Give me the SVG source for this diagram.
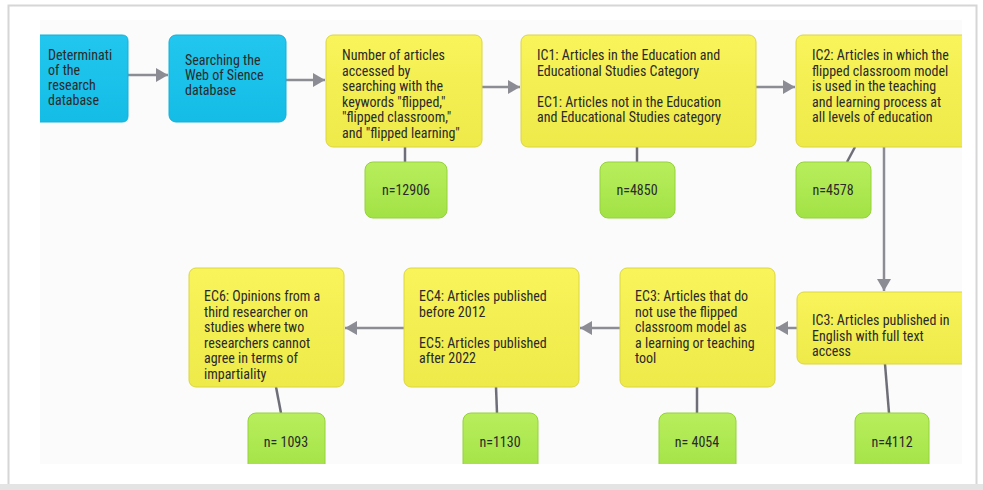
<svg xmlns="http://www.w3.org/2000/svg" width="983" height="490" viewBox="0 0 983 490">
<defs>
<linearGradient id="gy" x1="0" y1="0" x2="0" y2="1"><stop offset="0" stop-color="#f8f45a"/><stop offset="1" stop-color="#eeea4a"/></linearGradient>
<linearGradient id="gb" x1="0" y1="0" x2="0" y2="1"><stop offset="0" stop-color="#22c6ee"/><stop offset="1" stop-color="#14bde6"/></linearGradient>
<linearGradient id="gg" x1="0" y1="0" x2="0" y2="1"><stop offset="0" stop-color="#b8ee5c"/><stop offset="1" stop-color="#a2e246"/></linearGradient>
<marker id="ah" viewBox="0 0 12 14" refX="12" refY="7" markerWidth="12" markerHeight="14" markerUnits="userSpaceOnUse" orient="auto"><path d="M0,0 L12,7 L0,14 z" fill="#8c8c94"/></marker>
<clipPath id="panel"><rect x="40" y="20" width="922" height="444"/></clipPath>
</defs>
<style>
text{font-family:"Roboto Condensed","Liberation Sans Narrow",Roboto,sans-serif;font-stretch:condensed;font-size:14px;fill:#2a2a2a}
.y{fill:url(#gy);stroke:#dcd640;stroke-width:1}
.b{fill:url(#gb);stroke:#12b0d8;stroke-width:1}
.g{fill:url(#gg);stroke:#96d23c;stroke-width:1}
.c{stroke:#8c8c94;stroke-width:2.5;fill:none}
.l{stroke:#6e6e78;stroke-width:2.5;fill:none}
.m{text-anchor:middle}
</style>
<rect x="0" y="0" width="983" height="490" fill="#ffffff"/>
<rect x="8.5" y="5.5" width="968" height="480" fill="#ffffff" stroke="#d6d6d6" stroke-width="2"/>
<rect x="0" y="484" width="983" height="6" fill="#e4e4e4"/>
<rect x="40" y="20" width="922" height="444" fill="#fbfbfb"/>
<g clip-path="url(#panel)">
<g id="connectors">
<path class="c" d="M128,75 H168" marker-end="url(#ah)"/>
<path class="c" d="M286,80 H325" marker-end="url(#ah)"/>
<path class="c" d="M482,87 H520" marker-end="url(#ah)"/>
<path class="c" d="M756,87 H795" marker-end="url(#ah)"/>
<path class="c" d="M884,147 V291" marker-end="url(#ah)"/>
<path class="c" d="M797,328 H776" marker-end="url(#ah)"/>
<path class="c" d="M620,328 H580" marker-end="url(#ah)"/>
<path class="c" d="M404,328 H345" marker-end="url(#ah)"/>
<path class="l" d="M405,147 V162"/>
<path class="l" d="M637,147 V162"/>
<path class="l" d="M855,147 L847,162"/>
<path class="l" d="M276,387 L281,413"/>
<path class="l" d="M496,387 L497,413"/>
<path class="l" d="M697,387 V413"/>
<path class="l" d="M885,364 L889,413"/>
</g>
<g id="n1">
<path class="b" d="M30,35 H122 Q128,35 128,41 V116 Q128,122 122,122 H30 Z"/>
<text x="48" y="60">Determinati</text><text x="48" y="75">of the</text><text x="48" y="90"> research</text><text x="48" y="105">database</text>
</g>
<g id="n2">
<rect class="b" x="169" y="35" width="117" height="87" rx="7"/>
<text x="185" y="65">Searching the</text><text x="185" y="80">Web of Sience</text><text x="185" y="95">database</text>
</g>
<g id="n3">
<rect class="y" x="326" y="35" width="156" height="112" rx="7"/>
<text x="342" y="60">Number of articles</text><text x="342" y="76">accessed by</text><text x="342" y="91">searching with the</text><text x="342" y="107">keywords "flipped,"</text><text x="342" y="122">"flipped classroom,"</text><text x="342" y="138">and "flipped learning"</text>
</g>
<g id="n4">
<rect class="y" x="521" y="35" width="235" height="112" rx="7"/>
<text x="537" y="60">IC1: Articles in the Education and</text><text x="537" y="76">Educational Studies Category</text><text x="537" y="107">EC1: Articles not in the Education</text><text x="537" y="122">and Educational Studies category</text>
</g>
<g id="n5">
<rect class="y" x="796" y="35" width="180" height="112" rx="7"/>
<text x="812" y="60">IC2: Articles in which the</text><text x="812" y="76">flipped classroom model</text><text x="812" y="91">is used in the teaching</text><text x="812" y="107">and learning process at</text><text x="812" y="122">all levels of education</text>
</g>
<g id="g1"><rect class="g" x="365" y="162" width="82" height="56" rx="8"/><text class="m" x="406" y="195">n=12906</text></g>
<g id="g2"><rect class="g" x="600" y="162" width="75" height="56" rx="8"/><text class="m" x="637" y="195">n=4850</text></g>
<g id="g3"><rect class="g" x="796" y="162" width="75" height="56" rx="8"/><text class="m" x="833" y="195">n=4578</text></g>
<g id="n6">
<rect class="y" x="797" y="292" width="180" height="72" rx="7"/>
<text x="812" y="325">IC3: Articles published in</text><text x="812" y="341">English with full text</text><text x="812" y="356">access</text>
</g>
<g id="n7">
<rect class="y" x="620" y="268" width="155" height="119" rx="7"/>
<text x="635" y="301">EC3: Articles that do</text><text x="635" y="317">not use the flipped</text><text x="635" y="332">classroom model as</text><text x="635" y="348">a learning or teaching</text><text x="635" y="363">tool</text>
</g>
<g id="n8">
<rect class="y" x="404" y="268" width="175" height="119" rx="7"/>
<text x="419" y="301">EC4: Articles published</text><text x="419" y="317">before 2012</text><text x="419" y="348">EC5: Articles published</text><text x="419" y="363">after 2022</text>
</g>
<g id="n9">
<rect class="y" x="189" y="268" width="155" height="119" rx="7"/>
<text x="204" y="301">EC6: Opinions from a</text><text x="204" y="317">third researcher on</text><text x="204" y="332">studies where two</text><text x="204" y="348">researchers cannot</text><text x="204" y="363">agree in terms of</text><text x="204" y="379">impartiality</text>
</g>
<g id="g4"><rect class="g" x="248" y="413" width="77" height="60" rx="8"/><text class="m" x="286" y="447">n= 1093</text></g>
<g id="g5"><rect class="g" x="463" y="413" width="75" height="60" rx="8"/><text class="m" x="500" y="447">n=1130</text></g>
<g id="g6"><rect class="g" x="659" y="413" width="77" height="60" rx="8"/><text class="m" x="697" y="447">n= 4054</text></g>
<g id="g7"><rect class="g" x="855" y="413" width="74" height="60" rx="8"/><text class="m" x="892" y="447">n=4112</text></g>
</g>
</svg>
